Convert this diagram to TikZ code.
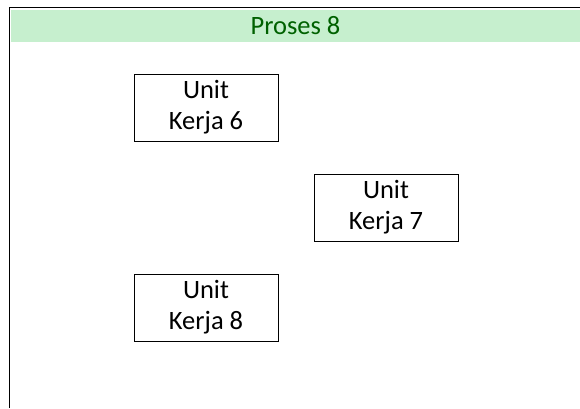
\documentclass[tikz,border=0pt]{standalone}
\usepackage{fontspec}
\setmainfont{Carlito}
\definecolor{goodfill}{HTML}{C6EFCE}
\definecolor{goodtext}{HTML}{006100}
\begin{document}
\begin{tikzpicture}[x=1pt,y=-1pt,line width=1pt,
	unitbox/.style={draw,align=center,inner sep=0pt,minimum width=144pt,minimum height=67pt,font=\fontsize{26.5}{31}\selectfont}]
\useasboundingbox (0,0) rectangle (580,408);
% header band
\node[fill=goodfill,text=goodtext,anchor=north west,inner sep=0pt,minimum width=570pt,minimum height=32pt,font=\fontsize{26.5}{31}\selectfont](header) at (10,9){Proses 8};
\draw (9.5,408)--(9.5,7.5)--(580,7.5);

\node[unitbox](unit6) at (206,107.5){Unit\\Kerja 6};
\node[unitbox](unit7) at (386,207.5){Unit\\Kerja 7};
\node[unitbox](unit8) at (206,307.5){Unit\\Kerja 8};
\end{tikzpicture}
\end{document}
